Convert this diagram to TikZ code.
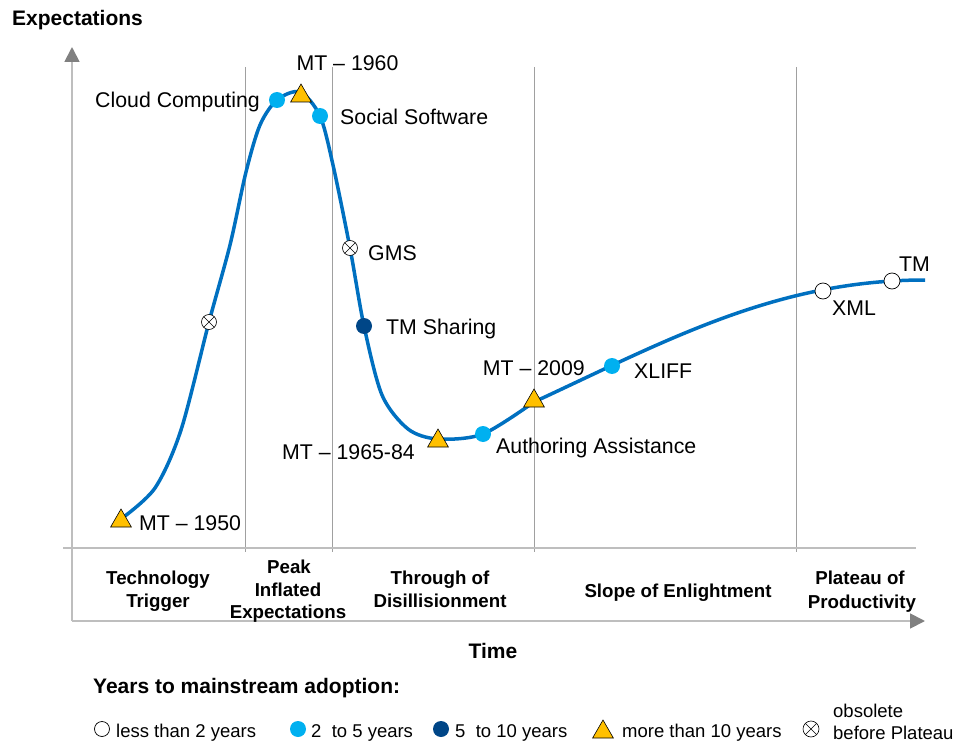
\documentclass[tikz,border=0pt]{standalone}
\usepackage{fontspec}
\setmainfont{Liberation Sans}
\usetikzlibrary{shapes.geometric,arrows.meta}
\definecolor{curveblue}{RGB}{0,112,192}
\definecolor{lightblue}{RGB}{0,176,240}
\definecolor{darkblue}{RGB}{0,70,135}
\definecolor{mtyellow}{RGB}{255,192,0}
\definecolor{axisgray}{RGB}{190,190,190}
\definecolor{sepgray}{RGB}{160,160,160}
\definecolor{arrowgray}{RGB}{128,128,128}
\begin{document}
\begin{tikzpicture}[x=1pt,y=-1pt,
  lbl/.style={inner sep=0, font=\fontsize{21.3}{25}\selectfont},
  phase/.style={inner sep=0, anchor=base, font=\fontsize{18.7}{22}\selectfont\bfseries},
  head/.style={inner sep=0, font=\fontsize{21}{25}\selectfont\bfseries},
  leg/.style={inner sep=0, anchor=base west, font=\fontsize{18.5}{22}\selectfont},
  dotlight/.style={circle, fill=lightblue, minimum size=16, inner sep=0},
  dotdark/.style={circle, fill=darkblue, minimum size=16, inner sep=0},
  dotopen/.style={circle, draw=black, fill=white, line width=0.7, minimum size=16, inner sep=0},
  obsmark/.style={circle, draw=black, fill=white, line width=0.6, minimum size=15, inner sep=0,
    path picture={\draw[line width=0.6] (path picture bounding box.north west) -- (path picture bounding box.south east)
      (path picture bounding box.north east) -- (path picture bounding box.south west);}},
  tri/.style={regular polygon, regular polygon sides=3, draw=black, line width=0.6, fill=mtyellow, minimum size=24, inner sep=0},
  sepline/.style={draw=sepgray, line width=0.9},
  axisline/.style={draw=axisgray, line width=1.8},
  arr/.style={-{Triangle[length=15pt,width=15pt,color=arrowgray]}},
]
\useasboundingbox (0,0) rectangle (954,741);

% coordinates for axes
\coordinate (origin) at (72,621);
\coordinate (ytop) at (72,47);
\coordinate (xright) at (925,621);
\coordinate (xaL) at (63,548);
\coordinate (xaR) at (916,548);

% separators
\foreach \sx in {245,332,534,796} {
  \draw[sepline] (\sx,67) -- (\sx,552);
}
% axes
\draw[axisline] (xaL) -- (xaR);
\draw[axisline,arr] (origin) -- (ytop);
\draw[axisline,arr] (origin) -- (xright);

% hype curve
\draw[curveblue, line width=3.5] plot[smooth, tension=0.5] coordinates {
 (121,519) (155,488) (181,430) (209,322) (230,245) (246,172) (260,125)
 (277,100) (300,92) (320,116) (333,165) (350,248) (364,326) (382,395)
 (408,429) (438,439) (483,434) (534,402)}
 .. controls (664,342) and (775,280) .. (925,280);

% markers
\node[tri] (mt50) at (121,521) {};
\node[obsmark] (obs1) at (209,322) {};
\node[dotlight] (cc) at (277,100) {};
\node[tri] (mt60) at (301,96) {};
\node[dotlight] (ss) at (320,116) {};
\node[obsmark] (gms) at (350,248) {};
\node[dotdark] (tms) at (364,326) {};
\node[tri] (mt65) at (438,441) {};
\node[dotlight] (aa) at (483,434) {};
\node[tri] (mt09) at (534,401) {};
\node[dotlight] (xliff) at (612,366) {};
\node[dotopen] (xml) at (823,291) {};
\node[dotopen] (tm) at (892,281) {};

% labels
\node[lbl, anchor=base west] (mt50l) at (139,530) {MT -- 1950};
\node[lbl, anchor=base east] (ccl) at (260,108) {Cloud Computing};
\node[lbl, anchor=base] (mt60l) at (347.5,71) {MT -- 1960};
\node[lbl, anchor=base west] (ssl) at (340,125) {Social Software};
\node[lbl, anchor=base west] (gmsl) at (368,260) {GMS};
\node[lbl, anchor=base west] (tmsl) at (386,334) {TM Sharing};
\node[lbl, anchor=base east] (mt65l) at (415,459) {MT -- 1965-84};
\node[lbl, anchor=base west] (aal) at (496,453) {Authoring Assistance};
\node[lbl, anchor=base east] (mt09l) at (585,375) {MT -- 2009};
\node[lbl, anchor=base west] (xliffl) at (634,378) {XLIFF};
\node[lbl, anchor=base west] (xmll) at (832,315) {XML};
\node[lbl, anchor=base west] (tml) at (899,271) {TM};

% phase labels
\node[phase] (ph1a) at (158,584) {Technology};
\node[phase] (ph1b) at (158,607) {Trigger};
\node[phase] (ph2a) at (289,573) {Peak};
\node[phase] (ph2b) at (288,596) {Inflated};
\node[phase] (ph2c) at (288,618) {Expectations};
\node[phase] (ph3a) at (440,584) {Through of};
\node[phase] (ph3b) at (440,607) {Disillisionment};
\node[phase] (ph4) at (678,597) {Slope of Enlightment};
\node[phase] (ph5a) at (860,584) {Plateau of};
\node[phase] (ph5b) at (862,608) {Productivity};

% headings
\node[head, anchor=base west] (yl) at (12,26) {Expectations};
\node[head, anchor=base] (xl) at (493,658) {Time};
\node[head, anchor=base west] (legt) at (93,693) {Years to mainstream adoption:};

% legend
\node[dotopen, minimum size=15] (lg1) at (102,729) {};
\node[leg] (lg1t) at (116,737) {less than 2 years};
\node[dotlight] (lg2) at (298,729) {};
\node[leg] (lg2t) at (311,737) {2\ \ to 5 years};
\node[dotdark] (lg3) at (441,729) {};
\node[leg] (lg3t) at (455,737) {5\ \ to 10 years};
\node[tri] (lg4) at (603,732) {};
\node[leg] (lg4t) at (622,737) {more than 10 years};
\node[obsmark, minimum size=16] (lg5) at (811,729) {};
\node[leg] (lg5a) at (833,717) {obsolete};
\node[leg] (lg5b) at (833,739) {before Plateau};
\end{tikzpicture}
\end{document}
